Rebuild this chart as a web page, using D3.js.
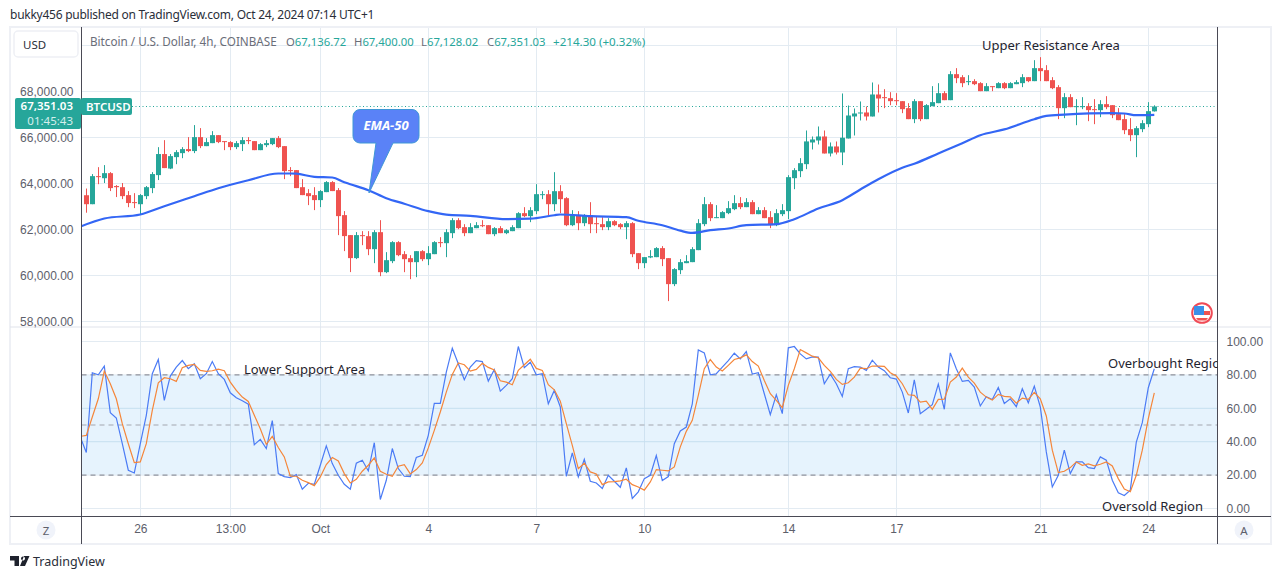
<!DOCTYPE html>
<html>
<head>
<meta charset="utf-8">
<title>BTCUSD</title>
<script src="https://d3js.org/d3.v7.min.js"></script>
<style>
  body { margin: 0; background: #fff; }
  svg { display: block; font-family: "Noto Sans", sans-serif; }
  .axis text { fill: #5d606b; font-size: 12px; }
</style>
</head>
<body>
<svg id="chart" width="1281" height="579"></svg>
<script>
// open, high, low, close, one row per 4h bar
var candles = [
[63490,63780,62730,63100],[63100,64410,63100,64320],[64320,64710,63970,64280],[64230,64800,64020,64450],[64450,64495,63670,63800],
[63890,63930,63410,63840],[63840,64020,63320,63450],[63495,63670,62970,63150],[63190,63580,62930,63150],[63100,63540,62670,63495],
[63450,63890,63320,63840],[63800,64495,63580,64410],[64365,65580,64150,65280],[65280,65885,64670,64670],[64650,65280,64625,65190],
[65147,65450,64840,65364],[65320,65580,65100,65495],[65495,66016,65364,65410],[65410,66540,65320,66016],[66016,66408,65538,65625],
[65625,65973,65625,65800],[65755,66277,65755,66103],[66103,66103,65755,65800],[65842,65842,65450,65800],[65800,65842,65450,65582],
[65582,65842,65495,65755],[65712,66016,65410,65886],[65886,66016,65712,65842],[65842,65842,65450,65450],[65450,65755,65450,65712],
[65668,65886,65582,65755],[65712,65973,65668,65973],[65973,66060,65538,65582],[65625,65625,64190,64538],[64582,64712,64320,64538],
[64582,64582,63800,63800],[63840,64190,63495,63495],[63580,63755,63060,63450],[63495,63840,62843,63278],[63278,63712,62973,63670],
[63625,64103,63625,64060],[64060,64103,63670,63670],[63712,63800,61756,62582],[62625,62800,61060,61713],[61756,61756,60148,60756],
[60756,61887,60713,61756],[61754,61928,61319,61710],[61710,61928,60884,61145],[61145,61971,60537,61884],[61884,62406,59971,60145],
[60145,61015,60102,60667],[60624,61493,60537,61450],[61450,61493,60841,60884],[60928,61058,60145,60710],[60754,60884,59841,60580],
[60580,61058,59928,61058],[61058,61102,60624,60710],[60710,61276,60450,60971],[60928,61493,60928,61450],[61450,61667,61232,61420],
[61406,62014,60797,61884],[61841,62493,61623,62406],[62406,62493,62014,62058],[62102,62232,61710,61841],[61841,62275,61841,62102],
[62058,62319,62058,62188],[62188,62406,62102,62145],[62188,62188,61797,61797],[61797,62102,61710,62058],[62058,62145,61841,61841],
[61841,62014,61797,61971],[61928,62188,61928,62102],[62058,62754,62058,62710],[62710,62971,62536,62580],[62580,62971,62319,62840],
[62797,63971,62667,63536],[63507,63666,63319,63536],[63536,63710,62623,63101],[63101,64492,62797,63666],[63666,63927,62710,63319],
[63362,63406,62145,62188],[62188,62840,62145,62623],[62623,62797,61971,62275],[62275,62667,62145,62623],[62623,63188,61841,62232],
[62275,62580,61841,62246],[62232,62536,61971,62102],[62102,62493,61971,62362],[62362,62406,62145,62188],[62232,62275,62014,62102],
[62102,62362,61580,62275],[62275,62319,60797,60928],[60971,60971,60276,60537],[60537,60798,60320,60798],[60784,61103,60755,60842],
[60798,61233,60798,61190],[61190,61277,60407,60711],[60755,60755,58886,59625],[59625,60320,59538,60277],[60233,60711,60059,60581],
[60537,60885,60537,60624],[60581,61233,60581,61146],[61103,62450,61103,62276],[62233,63407,62146,63102],[63102,63189,62363,62494],
[62494,63059,62494,62537],[62494,62798,62494,62755],[62711,63233,62667,62928],[62885,63493,62841,63146],[63146,63407,62885,62972],
[62972,63363,62972,63189],[63189,63276,62667,62667],[62667,62972,62667,62841],[62841,62972,62494,62494],[62537,62798,62059,62189],
[62189,62885,62146,62711],[62667,63102,62581,62841],[62798,64363,62450,64276],[64232,64667,63754,64580],[64537,65102,64276,64884],
[64841,66305,64624,65830],[65784,66044,65479,65914],[65870,66479,65697,66044],[66044,66305,65305,65305],[65305,65784,65175,65610],
[65610,65827,65262,65349],[65349,67914,64800,65991],[65957,67392,65957,66957],[66914,67261,66088,67044],[67044,67566,66740,67088],
[67088,67349,66740,66914],[66914,68392,66914,67870],[67870,68305,67088,67696],[67754,68102,67276,67710],[67710,67971,67406,67580],
[67623,67928,67406,67595],[67580,67580,67058,67232],[67276,67493,66798,66798],[66798,67667,66624,67580],[67580,67580,66711,66798],
[66798,67450,66798,67406],[67363,68232,67363,67537],[67493,68362,67493,67928],[67928,68015,67623,67623],[67623,68884,67623,68754],
[68754,69015,68363,68580],[68623,68710,68189,68363],[68406,68710,68276,68450],[68450,68536,68276,68319],[68363,68406,68015,68015],
[68015,68363,68015,68232],[68232,68232,68015,68203],[68145,68406,68145,68363],[68363,68406,68102,68145],[68145,68406,68145,68363],
[68319,68493,68319,68406],[68363,68754,68189,68623],[68623,68623,68406,68450],[68450,69362,68450,69015],[69015,69493,68450,68884],
[68928,69145,68450,68450],[68493,68623,68102,68145],[68189,68276,66798,67276],[67276,67928,66841,67754],[67754,67884,67319,67319],
[67334,67667,66536,67363],[67319,67754,67232,67363],[67363,67493,66710,67189],[67232,67667,66580,67203],[67189,67623,66884,67450],
[67450,67797,67232,67319],[67406,67406,66841,66971],[67015,67276,66754,66754],[66798,67015,66145,66319],[66363,66841,65841,66102],
[66102,66493,65145,66406],[66363,66754,66232,66624],[66580,67537,66450,67145],[67136.72,67400,67128.02,67351.03]
];

// EMA-50 as read at these bars: [bar, price]
var ema50 = [
[-1,62122],[3,62478],[9,62652],[13,63013],[18,63448],[22,63795],[27,64143],[32,64435],[34,64435],[35,64426],
[38,64287],[41,64261],[43,64056],[44,63969],[47,63708],[50,63361],[53,63122],[57,62796],[60,62643],[64,62592],
[70,62448],[74,62469],[78,62621],[79,62652],[84,62578],[90,62534],[92,62382],[96,62187],[99,61948],[101,61852],
[104,61969],[107,62043],[110,62187],[115,62230],[118,62448],[122,62913],[126,63274],[129,63739],[132,64187],[136,64687],
[138,64861],[142,65304],[146,65752],[149,66100],[153,66352],[158,66796],[160,66939],[163,66991],[171,67056],[173,67043],
[175,66969],[178,66983]
];

// Stoch RSI, first value sits one bar left of candles[0]
var stochK = [
42.8,33.5,81.3,80.1,85.3,57.4,54.2,38.8,22.9,21.3,38.8,55.8,80.7,89.2,64.7,79.3,84.7,88.6,83.7,86.7,
77.7,80.7,88.0,80.7,77.3,69.3,66.3,64.5,62.5,38.2,41.4,35.9,52.6,20.9,19.1,18.5,20.3,11.6,15.1,14.5,
25.9,37.5,26.9,19.9,14.5,11.6,27.1,28.9,22.5,39.4,5.4,16.9,35.9,23.9,19.3,19.1,30.5,31.9,43.8,62.9,
62.9,81.7,96.0,86.7,77.1,84.7,88.6,88.0,76.3,83.1,70.3,73.7,77.7,97.0,84.3,87.6,80.1,80.7,62.7,70.7,
60.8,19.3,33.3,18.9,29.5,16.3,15.3,12.0,19.9,16.3,12.7,24.3,6.0,10.0,17.9,19.9,31.7,16.7,19.1,38.8,
46.4,48.8,62.7,95.0,93.2,80.1,80.7,84.7,88.6,93.0,89.6,94.0,80.5,81.3,68.7,56.2,68.1,56.8,96.2,97.0,
92.6,89.6,90.8,90.6,74.7,80.5,74.7,67.1,83.7,84.9,84.7,82.7,88.8,84.7,82.5,78.3,77.5,69.7,57.2,77.1,
56.8,59.4,62.2,74.5,59.4,93.2,83.7,76.1,76.7,72.7,61.4,66.9,65.3,72.5,62.9,65.7,61.0,71.7,63.3,73.3,
60.8,33.9,12.9,19.9,34.9,20.9,27.9,27.9,24.5,23.9,30.9,28.9,16.9,9.4,7.8,11.0,39.8,51.4,72.3,83.7
];
var stochD = [
43.2,43.8,54.8,65.7,82.3,74.7,65.7,50.8,38.8,27.5,27.9,38.8,58.8,75.3,78.3,77.7,76.1,84.3,85.7,86.3,
82.7,82.1,82.5,83.5,82.5,75.7,70.7,66.7,64.1,55.8,47.8,38.4,43.2,36.5,30.9,19.3,19.3,16.9,15.5,13.7,
18.9,26.3,30.5,28.5,20.9,15.3,17.5,22.3,25.9,30.3,22.3,20.5,19.3,25.3,26.3,20.7,23.3,27.3,36.3,46.8,
57.8,69.7,80.3,87.1,86.1,82.3,83.3,86.9,84.5,82.9,76.5,75.7,74.1,82.7,86.1,89.4,83.9,82.7,74.1,71.1,
64.3,50.8,37.8,23.9,27.1,21.9,20.7,14.3,15.9,16.1,16.5,17.5,14.3,12.9,11.0,15.9,23.3,22.9,22.5,24.9,
36.9,46.2,52.8,67.7,83.7,89.2,84.7,82.3,85.7,89.2,90.2,92.0,88.0,85.3,76.7,68.7,64.7,60.4,73.7,83.7,
95.2,93.2,91.2,90.2,85.7,82.1,77.3,74.3,75.3,78.7,84.1,83.7,85.3,85.3,85.1,81.3,79.3,74.7,68.1,67.7,
63.7,64.3,59.4,65.3,65.5,75.7,78.7,84.1,78.7,75.1,69.7,66.7,64.9,68.3,67.1,66.9,63.1,66.1,65.3,69.5,
65.7,55.4,34.9,21.5,22.3,24.5,27.9,25.9,26.7,25.5,26.5,27.9,25.5,17.9,11.6,10.0,19.9,34.9,53.8,69.3
];

// time axis ticks: bar index -> label
var timeTicks = {9:"26",24:"13:00",39:"Oct",57:"4",75:"7",93:"10",117:"14",135:"17",159:"21",177:"24"};

var notes = [
  {text:"Upper Resistance Area", x:982, y:50},
  {text:"Lower Support Area", x:244, y:374},
  {text:"Overbought Region", x:1108, y:368},
  {text:"Oversold Region", x:1102, y:511}
];

// window.top is read only, so the pane edges get their own names
var paneL = 81.5, paneR = 1217.5, paneT = 27.5, divider = 327, paneB = 516.5;
var teal = "#26a69a", red = "#ef5350", grid = "#e3ebf2";

var svg = d3.select("#chart");

var x = d3.scaleLinear().domain([0, 178]).range([86.3, 1154.3]);
var y = d3.scaleLinear().domain([58000, 70000]).range([321.5, 45.5]);
var yStoch = d3.scaleLinear().domain([0, 100]).range([508.5, 341.5]);
var px = function(v) { return Math.round(v) + 0.5; };

var defs = svg.append("defs");
defs.append("clipPath").attr("id", "topClip").append("rect")
  .attr("x", paneL).attr("y", paneT).attr("width", paneR - paneL).attr("height", divider - paneT);
defs.append("clipPath").attr("id", "lowClip").append("rect")
  .attr("x", paneL).attr("y", divider).attr("width", paneR - paneL).attr("height", paneB - divider);

// grids
var tickBars = Object.keys(timeTicks).map(Number);
svg.append("g").selectAll("line").data(tickBars).join("line")
  .attr("x1", function(d) { return px(x(d)); }).attr("x2", function(d) { return px(x(d)); })
  .attr("y1", paneT).attr("y2", paneB).attr("stroke", grid);
var priceTicks = [58000, 60000, 62000, 64000, 66000, 68000];
svg.append("g").selectAll("line").data(priceTicks.concat([70000])).join("line")
  .attr("x1", paneL).attr("x2", paneR)
  .attr("y1", function(d) { return y(d); }).attr("y2", function(d) { return y(d); }).attr("stroke", grid);
var stochTicks = [0, 20, 40, 60, 80, 100];

// stoch band sits under its grid
svg.append("rect").attr("x", paneL).attr("width", paneR - paneL)
  .attr("y", yStoch(80)).attr("height", yStoch(20) - yStoch(80)).attr("fill", "#e3f2fd").attr("opacity", 0.9);
svg.append("g").selectAll("line").data(tickBars).join("line")
  .attr("x1", function(d) { return px(x(d)); }).attr("x2", function(d) { return px(x(d)); })
  .attr("y1", yStoch(80)).attr("y2", yStoch(20)).attr("stroke", "#cfe2f1");
svg.append("g").selectAll("line").data(stochTicks).join("line")
  .attr("x1", paneL).attr("x2", paneR)
  .attr("y1", function(d) { return yStoch(d); }).attr("y2", function(d) { return yStoch(d); })
  .attr("stroke", function(d) { return d == 60 || d == 40 ? "#c5dfef" : grid; });
svg.append("g").selectAll("line").data([80, 50, 20]).join("line")
  .attr("x1", paneL).attr("x2", paneR)
  .attr("y1", function(d) { return yStoch(d); }).attr("y2", function(d) { return yStoch(d); })
  .attr("stroke", function(d) { return d == 50 ? "#a3a6af" : "#787b86"; })
  .attr("stroke-dasharray", "5 4");

// last price line
svg.append("line").attr("x1", 132).attr("x2", paneR).attr("y1", 106.5).attr("y2", 106.5)
  .attr("stroke", teal).attr("stroke-dasharray", "1 2.5");

// candles
var gTop = svg.append("g").attr("clip-path", "url(#topClip)");
var bars = gTop.selectAll("g.bar").data(candles).join("g").attr("class", "bar");
var barColor = function(d) { return d[3] >= d[0] ? teal : red; };
bars.append("line")
  .attr("x1", function(d, i) { return px(x(i)); }).attr("x2", function(d, i) { return px(x(i)); })
  .attr("y1", function(d) { return y(d[1]); }).attr("y2", function(d) { return y(d[2]); })
  .attr("stroke", barColor);
bars.append("rect")
  .attr("x", function(d, i) { return px(x(i)) - 2.5; }).attr("width", 5)
  .attr("y", function(d) { return y(Math.max(d[0], d[3])); })
  .attr("height", function(d) { return Math.max(1, Math.abs(y(d[0]) - y(d[3]))); })
  .attr("fill", barColor);

// EMA-50
gTop.append("path").datum(ema50)
  .attr("fill", "none").attr("stroke", "#3366f5").attr("stroke-width", 2.2)
  .attr("d", d3.line().x(function(d) { return x(d[0]); }).y(function(d) { return y(d[1]); }).curve(d3.curveMonotoneX));

// stoch lines
var gLow = svg.append("g").attr("clip-path", "url(#lowClip)");
var stochLine = d3.line().x(function(d, i) { return x(i - 1); }).y(function(d) { return yStoch(d); });
gLow.append("path").datum(stochK).attr("fill", "none").attr("stroke", "#4b7bf5").attr("stroke-width", 1.2).attr("d", stochLine);
gLow.append("path").datum(stochD).attr("fill", "none").attr("stroke", "#f5863a").attr("stroke-width", 1.2).attr("d", stochLine);

// frame
svg.append("rect").attr("x", 10).attr("y", 27).attr("width", 1261).attr("height", 517)
  .attr("fill", "none").attr("stroke", "#eef0f5").attr("stroke-width", 2);
svg.append("line").attr("x1", 10).attr("x2", 1271).attr("y1", divider).attr("y2", divider).attr("stroke", "#e0e3eb");
svg.append("line").attr("x1", 10).attr("x2", 1271).attr("y1", paneB).attr("y2", paneB).attr("stroke", "#4a4a55");
[paneL, paneR].forEach(function(v) {
  svg.append("line").attr("x1", v).attr("x2", v).attr("y1", 27).attr("y2", 544).attr("stroke", "#4a4a55");
});

// axes
svg.append("g").attr("class", "axis").attr("transform", "translate(" + paneL + ",0)")
  .call(d3.axisLeft(y).tickValues(priceTicks).tickFormat(d3.format(",.2f")).tickSize(0).tickPadding(8))
  .call(function(g) { g.select(".domain").remove(); });
svg.append("g").attr("class", "axis").attr("transform", "translate(" + paneR + ",0)")
  .call(d3.axisRight(yStoch).tickValues(stochTicks).tickFormat(d3.format(".2f")).tickSize(0).tickPadding(9))
  .call(function(g) { g.select(".domain").remove(); });
svg.append("g").attr("class", "axis").attr("transform", "translate(0," + paneB + ")")
  .call(d3.axisBottom(x).tickValues(tickBars).tickFormat(function(d) { return timeTicks[d]; }).tickSize(0).tickPadding(8))
  .call(function(g) { g.select(".domain").remove(); });

// header
svg.append("text").attr("x", 10).attr("y", 19).attr("font-size", 12).attr("letter-spacing", -0.25).attr("fill", "#2a2e39")
  .text("bukky456 published on TradingView.com, Oct 24, 2024 07:14 UTC+1");
svg.append("rect").attr("x", 14).attr("y", 31).attr("width", 64).attr("height", 26).attr("rx", 4)
  .attr("fill", "#fff").attr("stroke", "#eef0f5").attr("stroke-width", 1.5);
svg.append("text").attr("x", 23).attr("y", 49).attr("font-size", 11.5).attr("fill", "#2a2e39").text("USD");

svg.append("text").attr("x", 90).attr("y", 46).attr("font-size", 11.7).attr("fill", "#6a6d78")
  .text("Bitcoin / U.S. Dollar, 4h, COINBASE");
var legend = [["O", "67,136.72", 286], ["H", "67,400.00", 354], ["L", "67,128.02", 421], ["C", "67,351.03", 487]];
legend.forEach(function(l) {
  var t = svg.append("text").attr("x", l[2]).attr("y", 46).attr("font-size", 11.3).attr("fill", "#6a6d78");
  t.append("tspan").text(l[0]);
  t.append("tspan").attr("fill", teal).text(l[1]);
});
svg.append("text").attr("x", 553).attr("y", 46).attr("font-size", 11.6).attr("fill", teal).text("+214.30 (+0.32%)");

// last price tag
svg.append("rect").attr("x", 15).attr("y", 98).attr("width", 66).attr("height", 31).attr("rx", 2).attr("fill", teal);
svg.append("rect").attr("x", 81).attr("y", 98).attr("width", 51).attr("height", 17).attr("rx", 2).attr("fill", teal);
svg.append("text").attr("x", 73).attr("y", 109.5).attr("text-anchor", "end").attr("font-size", 11.5).attr("font-weight", 600)
  .attr("fill", "#fff").text("67,351.03");
svg.append("text").attr("x", 73).attr("y", 125).attr("text-anchor", "end").attr("font-size", 11.5)
  .attr("fill", "#d4efec").text("01:45:43");
svg.append("text").attr("x", 86).attr("y", 111).attr("font-size", 11.5).attr("font-weight", 600)
  .attr("fill", "#fff").text("BTCUSD");

// EMA-50 callout
svg.append("path")
  .attr("d", "M360,109.5H412a7,7 0 0 1 7,7V136a7,7 0 0 1 -7,7H393L369,193L376,143H360a7,7 0 0 1 -7,-7V116.5a7,7 0 0 1 7,-7Z")
  .attr("fill", "#5a82f7").attr("stroke", "#3f97d6");
svg.append("text").attr("x", 386).attr("y", 130).attr("text-anchor", "middle").attr("font-size", 13)
  .attr("font-style", "italic").attr("font-weight", 700).attr("fill", "#fff").text("EMA-50");

// text notes
svg.append("clipPath").attr("id", "noteClip").append("rect")
  .attr("x", 0).attr("y", 0).attr("width", paneR).attr("height", 579);
svg.append("g").attr("clip-path", "url(#noteClip)").selectAll("text").data(notes).join("text")
  .attr("x", function(d) { return d.x; }).attr("y", function(d) { return d.y; })
  .attr("font-size", 13).attr("fill", "#1f2430")
  .text(function(d) { return d.text; });

// flag badge
var flag = svg.append("g").attr("transform", "translate(1202,313)");
flag.append("circle").attr("r", 9.8).attr("fill", "#fff").attr("stroke", "#f04a55").attr("stroke-width", 2);
flag.append("rect").attr("x", -8).attr("y", -7).attr("width", 10).attr("height", 9).attr("fill", "#3a8fe8");
flag.append("rect").attr("x", 2).attr("y", -2).attr("width", 6).attr("height", 4).attr("fill", "#ef5350");
flag.append("path").attr("d", "M-6,5H6L4,7.5H-4Z").attr("fill", "#ef5350");

// round buttons on time axis
[[46, "Z"], [1244, "A"]].forEach(function(b) {
  svg.append("circle").attr("cx", b[0]).attr("cy", 530).attr("r", 9.5).attr("fill", "#f0f3fa");
  svg.append("text").attr("x", b[0]).attr("y", 534.5).attr("text-anchor", "middle").attr("font-size", 11.5)
    .attr("fill", "#5d606b").text(b[1]);
});

// TradingView footer
svg.append("path").attr("d", "M10,556H19V566H14.5V560.5H10ZM21,558.5A2,2 0 1 0 21,558.4ZM24,556H29.5L25,566H20Z").attr("fill", "#1e222d");
svg.append("text").attr("x", 33).attr("y", 566).attr("font-size", 12.5).attr("fill", "#2a2e39").text("TradingView");
</script>
</body>
</html>
